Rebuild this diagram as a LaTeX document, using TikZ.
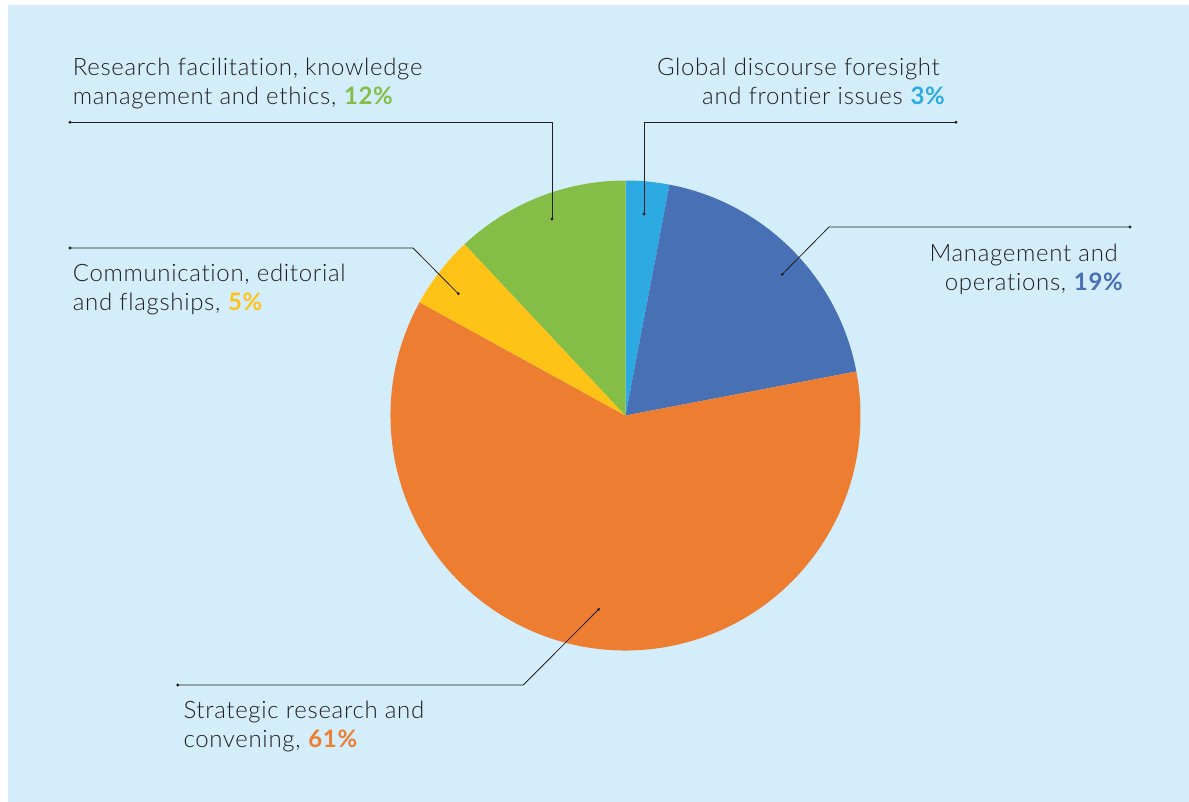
\documentclass[tikz,border=0pt]{standalone}
\usepackage{fontspec}
\setmainfont{Lato Light}[BoldFont=Lato Bold, LetterSpace=2.8, Ligatures=NoCommon]
\definecolor{bgblue}{HTML}{D3EEFA}
\definecolor{cgreen}{HTML}{84BE46}
\definecolor{clblue}{HTML}{2DAAE1}
\definecolor{cblue}{HTML}{4870B5}
\definecolor{corange}{HTML}{ED7D31}
\definecolor{cyellow}{HTML}{FEC316}
\definecolor{ink}{HTML}{231F20}
\tikzset{
  lbl/.style={font=\fontsize{24}{29}\selectfont, text=ink, inner sep=0pt},
  lblw/.style={lbl, anchor=base west},
  lble/.style={lbl, anchor=base east},
  leader/.style={draw=ink, line width=0.8pt},
  dot/.style={fill=ink},
}
\newcommand{\pct}[2]{\textbf{\textcolor{#1}{#2}}}
\newcommand{\slice}[3]{\fill[#1] (625.5,415.5) -- ++(-#2:235) arc[start angle=-#2, end angle=-#3, radius=235] -- cycle;}
\begin{document}
\begin{tikzpicture}[x=1pt,y=-1pt]
\useasboundingbox (0,0) rectangle (1189,802);
\fill[bgblue] (8,5) rectangle (1189,802);
% pie slices (visual counter-clockwise angles)
\slice{clblue}{79.2}{90}
\slice{cblue}{10.8}{79.2}
\slice{corange}{-208.8}{10.8}
\slice{cyellow}{133.2}{151.2}
\slice{cgreen}{90}{133.2}
% labels
\node[lblw] (g1) at (72.7,76) {Research facilitation, knowledge};
\node[lblw] (g2) at (72.7,105) {management and ethics, \pct{cgreen}{12\%}};
\node[lble] (l1) at (940,76) {Global discourse foresight};
\node[lble] (l2) at (945,105) {and frontier issues \pct{clblue}{3\%}};
\node[lble] (b1) at (1118,262) {Management and};
\node[lble] (b2) at (1123,291) {operations, \pct{cblue}{19\%}};
\node[lblw] (y1) at (72.7,282) {Communication, editorial};
\node[lblw] (y2) at (72.7,311) {and flagships, \pct{cyellow}{5\%}};
\node[lblw] (o1) at (183.3,718) {Strategic research and};
\node[lblw] (o2) at (183.3,747) {convening, \pct{corange}{61\%}};
% leader coordinates
\coordinate (gA) at (552,219); \coordinate (gB) at (552,122.3); \coordinate (gC) at (70,122.3);
\coordinate (lA) at (644,214); \coordinate (lB) at (644,122.3); \coordinate (lC) at (956,122.3);
\coordinate (bA) at (782.3,274.3); \coordinate (bB) at (829,227); \coordinate (bC) at (1130,227);
\coordinate (yA) at (458.3,293.7); \coordinate (yB) at (413,248); \coordinate (yC) at (70,248);
\coordinate (oA) at (598.7,609.3); \coordinate (oB) at (523.3,685); \coordinate (oC) at (177.7,685);
\draw[leader] (gA) -- (gB) -- (gC);
\draw[leader] (lA) -- (lB) -- (lC);
\draw[leader] (bA) -- (bB) -- (bC);
\draw[leader] (yA) -- (yB) -- (yC);
\draw[leader] (oA) -- (oB) -- (oC);
\foreach \p in {gA,gC,lA,lC,bA,bC,yA,yC,oA,oC} \fill[dot] (\p) circle (1.6pt);
\end{tikzpicture}
\end{document}
